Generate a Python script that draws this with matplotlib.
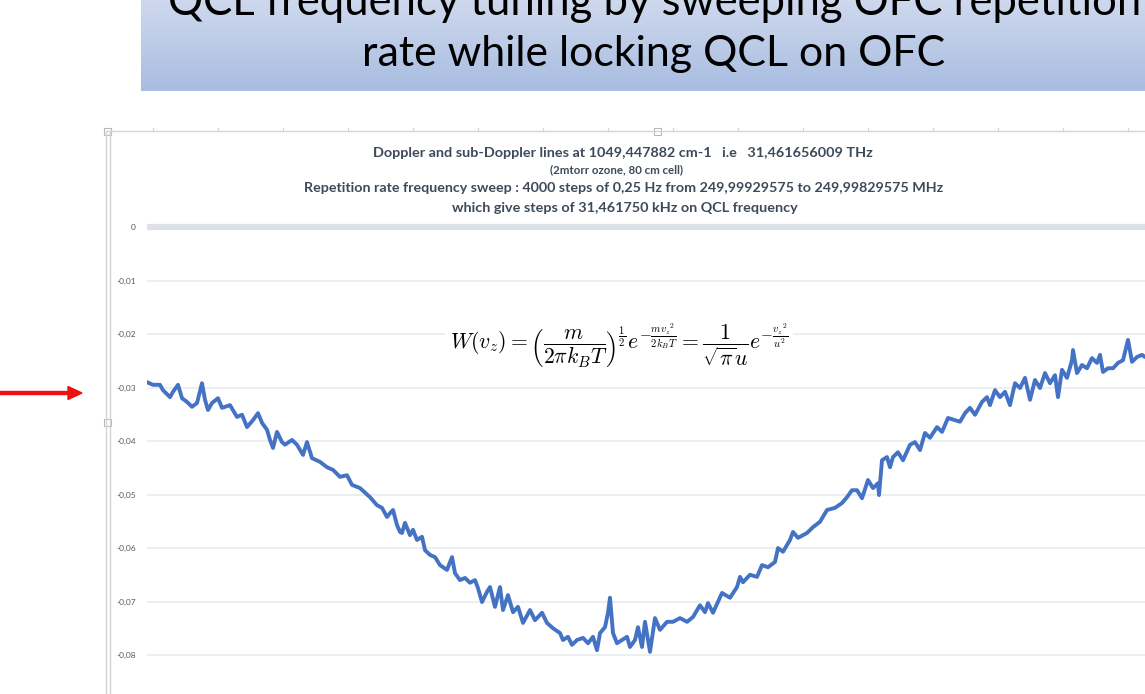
import numpy as np
import matplotlib
matplotlib.use("Agg")
import matplotlib.pyplot as plt
from matplotlib.patches import Rectangle, FancyArrow

# ---- data: sweep step index and absorption signal ----
steps = [0, 24, 52, 64, 92, 104, 124, 140, 160, 180, 200, 220, 232, 244, 260, 284, 300,
         332, 360, 380, 400, 424, 444, 460, 480, 492, 504, 520, 540, 552, 580, 600, 624,
         640, 660, 692, 720, 744, 772, 800, 820, 852, 892, 920, 940, 960, 972, 984, 1000,
         1012, 1020, 1032, 1052, 1064, 1080, 1100, 1112, 1132, 1152, 1172, 1200, 1220,
         1232, 1252, 1272, 1292, 1312, 1324, 1340, 1360, 1372, 1392, 1412, 1424, 1444,
         1464, 1484, 1504, 1532, 1552, 1580, 1600, 1624, 1652, 1664, 1684, 1700, 1720,
         1744, 1764, 1784, 1800, 1812, 1832, 1844, 1852, 1864, 1880, 1900, 1920, 1932,
         1952, 1964, 1980, 1992, 2012, 2032, 2052, 2080, 2104, 2132, 2160, 2184, 2212,
         2232, 2244, 2264, 2300, 2332, 2360, 2372, 2384, 2412, 2440, 2460, 2484, 2512,
         2524, 2544, 2572, 2584, 2604, 2640, 2664, 2692, 2720, 2752, 2780, 2800, 2820,
         2840, 2860, 2884, 2904, 2924, 2928, 2940, 2960, 2972, 2984, 3004, 3024, 3052,
         3072, 3092, 3112, 3132, 3160, 3180, 3204, 3232, 3252, 3272, 3292, 3312, 3340,
         3360, 3372, 3392, 3412, 3432, 3452, 3472, 3492, 3512, 3532, 3552, 3572, 3592,
         3612, 3632, 3644, 3660, 3680, 3700, 3704, 3720, 3740, 3760, 3780, 3800, 3812,
         3824, 3844, 3864, 3884, 3904, 3924, 3940, 3960, 3980, 3992]
signal = [-0.0290, -0.0295, -0.0295, -0.0305, -0.0318, -0.0308, -0.0295, -0.0320, -0.0327,
          -0.0336, -0.0329, -0.0292, -0.0323, -0.0342, -0.0329, -0.0320, -0.0338, -0.0333,
          -0.0355, -0.0351, -0.0374, -0.0361, -0.0348, -0.0366, -0.0379, -0.0398, -0.0413,
          -0.0383, -0.0402, -0.0407, -0.0398, -0.0407, -0.0426, -0.0402, -0.0432, -0.0439,
          -0.0449, -0.0454, -0.0467, -0.0464, -0.0482, -0.0488, -0.0505, -0.0520, -0.0525,
          -0.0542, -0.0535, -0.0529, -0.0557, -0.0570, -0.0572, -0.0553, -0.0576, -0.0566,
          -0.0585, -0.0579, -0.0604, -0.0613, -0.0617, -0.0632, -0.0641, -0.0617, -0.0647,
          -0.0660, -0.0656, -0.0665, -0.0660, -0.0675, -0.0701, -0.0682, -0.0673, -0.0710,
          -0.0673, -0.0716, -0.0688, -0.0720, -0.0710, -0.0740, -0.0716, -0.0735, -0.0721,
          -0.0740, -0.0750, -0.0759, -0.0772, -0.0766, -0.0781, -0.0772, -0.0768, -0.0778,
          -0.0766, -0.0791, -0.0759, -0.0748, -0.0721, -0.0693, -0.0759, -0.0778, -0.0772,
          -0.0766, -0.0785, -0.0772, -0.0748, -0.0785, -0.0738, -0.0794, -0.0731, -0.0753,
          -0.0738, -0.0738, -0.0731, -0.0738, -0.0729, -0.0707, -0.0720, -0.0703, -0.0721,
          -0.0684, -0.0693, -0.0673, -0.0654, -0.0664, -0.0650, -0.0654, -0.0632, -0.0636,
          -0.0626, -0.0600, -0.0607, -0.0585, -0.0570, -0.0581, -0.0572, -0.0561, -0.0551,
          -0.0529, -0.0525, -0.0516, -0.0505, -0.0492, -0.0492, -0.0507, -0.0473, -0.0488,
          -0.0479, -0.0501, -0.0436, -0.0430, -0.0449, -0.0430, -0.0421, -0.0436, -0.0407,
          -0.0402, -0.0417, -0.0385, -0.0394, -0.0374, -0.0383, -0.0357, -0.0361, -0.0364,
          -0.0348, -0.0338, -0.0351, -0.0327, -0.0318, -0.0333, -0.0305, -0.0318, -0.0308,
          -0.0333, -0.0292, -0.0301, -0.0282, -0.0323, -0.0286, -0.0301, -0.0273, -0.0292,
          -0.0277, -0.0318, -0.0267, -0.0282, -0.0249, -0.0230, -0.0273, -0.0258, -0.0264,
          -0.0245, -0.0254, -0.0239, -0.0271, -0.0264, -0.0264, -0.0254, -0.0249, -0.0211,
          -0.0252, -0.0243, -0.0239, -0.0243]

y_ticks = [0, -0.01, -0.02, -0.03, -0.04, -0.05, -0.06, -0.07, -0.08]
y_tick_labels = ["0", "-0,01", "-0,02", "-0,03", "-0,04", "-0,05", "-0,06", "-0,07", "-0,08"]

slide_title = ["QCL frequency tuning by sweeping OFC repetition",
               "rate while locking QCL on OFC"]
chart_title = [
    "Doppler and sub-Doppler lines at 1049,447882 cm-1   i.e   31,461656009 THz",
    "(2mtorr ozone, 80 cm cell)",
    "Repetition rate frequency sweep : 4000 steps of 0,25 Hz from 249,99929575 to 249,99829575 MHz",
    "which give steps of 31,461750 kHz on QCL frequency",
]
equation = (r"$W(v_z) = \left(\dfrac{m}{2\pi k_B T}\right)^{\frac{1}{2}}"
            r"e^{-\frac{m {v_z}^2}{2 k_B T}} = \dfrac{1}{\sqrt{\pi} u}"
            r"e^{-\frac{{v_z}^2}{u^2}}$")

# ---- figure ----
W, H = 1145, 694
plt.rcParams["mathtext.fontset"] = "cm"
fig = plt.figure(figsize=(W / 100, H / 100), dpi=100)
fig.patch.set_facecolor("white")
renderer = fig.canvas.get_renderer()


def fx(px):
    return px / W


def fy(py):
    return 1 - py / H


def fit_text(xc, y, s, width, va="center", **kw):
    t = fig.text(fx(xc), fy(y), s, ha="center", va=va, fontsize=10, **kw)
    bb = t.get_window_extent(renderer)
    t.set_fontsize(10 * width / bb.width)
    return t


# slide banner with vertical gradient
bax = fig.add_axes([fx(141), fy(91), fx(W - 141), 91 / H])
bax.set_axis_off()
top = np.array([0.81, 0.85, 0.93])
bot = np.array([0.66, 0.74, 0.88])
t = np.linspace(0, 1, 100)[:, None, None]
grad = top * (1 - t) + bot * t
grad = np.repeat(grad, 2, axis=1)
bax.imshow(grad, aspect="auto", extent=[0, 1, 0, 1], origin="upper")
bax.set_xlim(0, 1)
bax.set_ylim(0, 1)

fit_text(655, 15, slide_title[0], 975, va="baseline", family="Lato", color="black")
fit_text(654, 66, slide_title[1], 582, va="baseline", family="Lato", color="black")

# chart frame (selection border, ruler marks and handles)
frame_col = "#d4d4d4"
fig.add_artist(plt.Line2D([fx(107), fx(W)], [fy(131), fy(131)], color=frame_col, lw=1.0))
for px in range(153, W, 65):
    fig.add_artist(plt.Line2D([fx(px), fx(px)], [fy(131), fy(128)], color=frame_col, lw=0.8))
fig.add_artist(plt.Line2D([fx(106), fx(106)], [fy(131), 0], color=frame_col, lw=1.0))
fig.add_artist(plt.Line2D([fx(110), fx(110)], [fy(131), 0], color=frame_col, lw=1.0))
for hx, hy in [(107, 131), (657, 131), (107, 422)]:
    fig.add_artist(Rectangle((fx(hx - 3.5), fy(hy + 3.5)), 7 / W, 7 / H,
                             facecolor="white", edgecolor="#b8b8b8", lw=0.8))

# chart titles
title_col = "#3d4a5a"
fit_text(623, 153, chart_title[0], 500, family="Lato", weight="bold", color=title_col)
fit_text(617, 170, chart_title[1], 134, family="Lato", weight="bold", color=title_col)
fit_text(624, 188, chart_title[2], 643, family="Lato", weight="bold", color=title_col)
fit_text(625, 208, chart_title[3], 345, family="Lato", weight="bold", color=title_col)

# plot area
ax_top, ax_bot = 220, 694
ax = fig.add_axes([fx(147), 0, 1000 / W, (ax_bot - ax_top) / H])
ax.set_facecolor("none")
ax.set_xlim(0, 4000)
ax.set_ylim(-(ax_bot - 227) / 5350, -(ax_top - 227) / 5350)
for s in ax.spines.values():
    s.set_visible(False)
ax.set_xticks([])
ax.set_yticks(y_ticks)
ax.set_yticklabels(y_tick_labels)
ax.tick_params(axis="y", length=0, pad=8, labelsize=6, labelcolor="#595959")
for lab in ax.get_yticklabels():
    lab.set_family("Lato")
ax.grid(axis="y", color="#e9ecf0", lw=1.2)
ax.set_axisbelow(True)
ax.axhline(0, color="#dde1e6", lw=4.5, zorder=1)

ax.plot(steps, signal, color="#4472c4", lw=2.8, solid_joinstyle="round",
        solid_capstyle="round", zorder=3)

# equation
eq = fig.text(fx(619), fy(346), equation, ha="center", va="center", fontsize=10,
              bbox=dict(facecolor="white", edgecolor="none", pad=2))
bb = eq.get_window_extent(renderer)
eq.set_fontsize(10 * 336 / bb.width)

# red pointer arrow
fig.add_artist(FancyArrow(0, fy(393), fx(82), 0, width=3.0 / H, head_width=13 / H,
                          head_length=14 / W, length_includes_head=True,
                          color="#ee1111", transform=fig.transFigure))

fig.savefig("out.png", dpi=100)
